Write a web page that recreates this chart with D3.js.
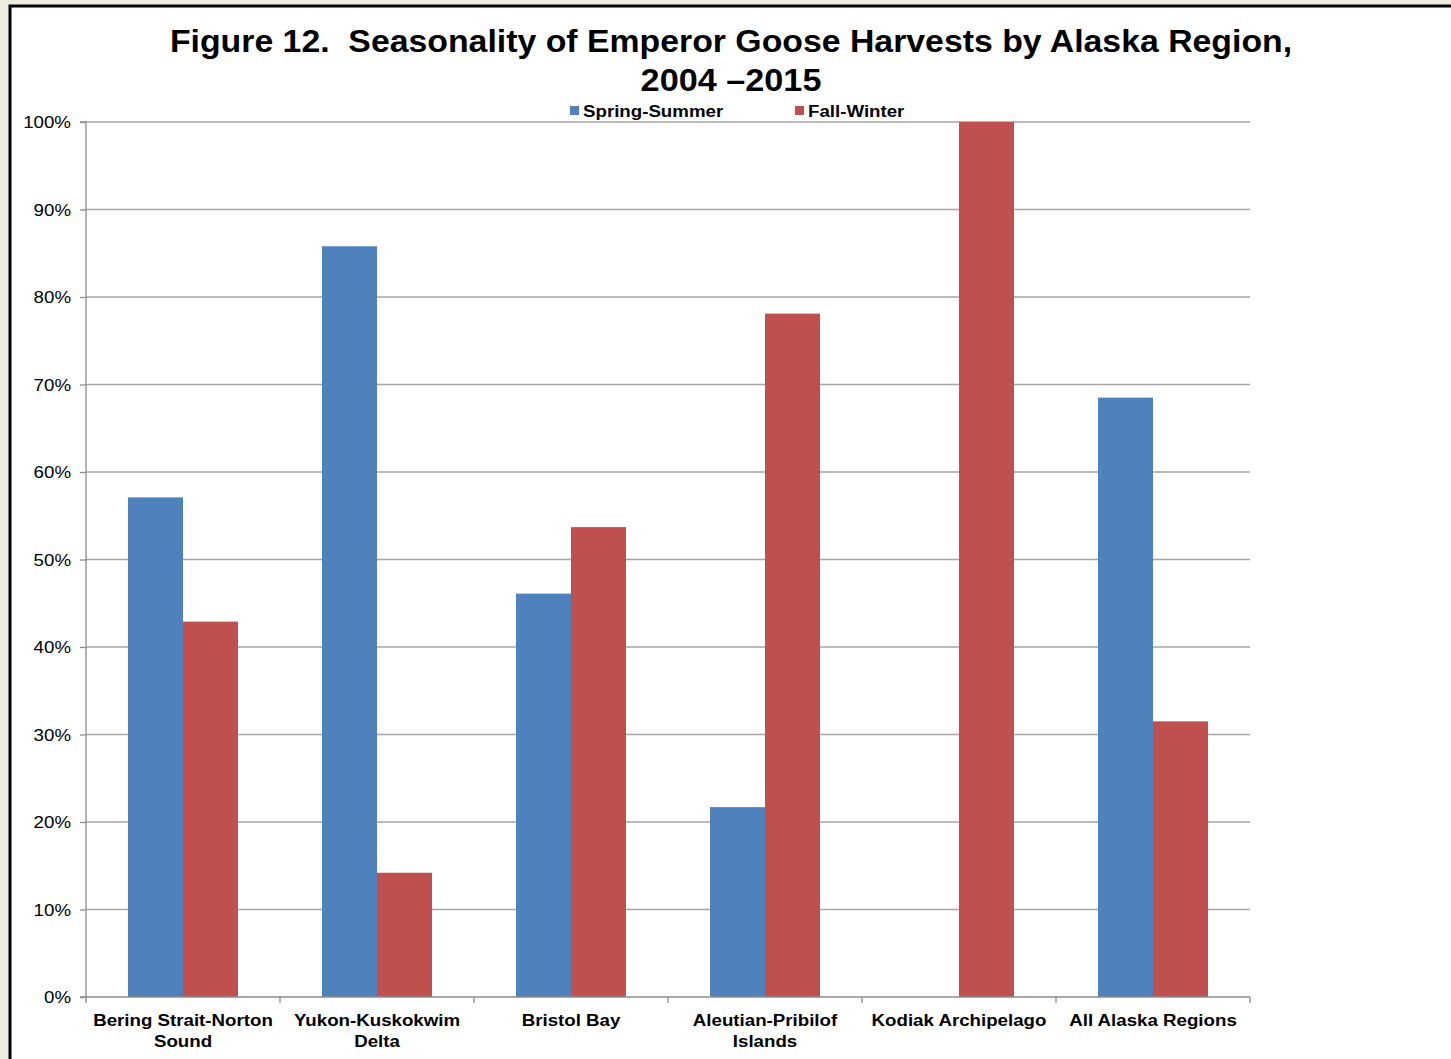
<!DOCTYPE html>
<html><head><meta charset="utf-8">
<script src="https://cdn.jsdelivr.net/npm/d3@7"></script>
<style>
html,body{margin:0;padding:0;background:#eeece1;}
svg{display:block;font-family:"Liberation Sans",Arial,sans-serif;}
</style></head>
<body><svg id="chart" width="1451" height="1059"></svg>
<script>
const categories = [["Bering Strait-Norton","Sound"],["Yukon-Kuskokwim","Delta"],["Bristol Bay"],["Aleutian-Pribilof","Islands"],["Kodiak Archipelago"],["All Alaska Regions"]];
const seriesNames = ["Spring-Summer","Fall-Winter"];
const springSummer = [0.571, 0.858, 0.461, 0.217, 0, 0.685];
const fallWinter = [0.429, 0.142, 0.537, 0.781, 1.0, 0.315];
const yTicks = [0,0.1,0.2,0.3,0.4,0.5,0.6,0.7,0.8,0.9,1.0];
const colors = ["#4f81bd","#c0504d"];

const svg = d3.select("#chart");
svg.append("rect").attr("x",10).attr("y",6).attr("width",1460).attr("height",1080)
  .attr("fill","#fff").attr("stroke","#000").attr("stroke-width",3);

const x0 = 86, x1 = 1250, yb = 997, yt = 122;
const x = d3.scaleBand().domain(d3.range(categories.length)).range([x0,x1]);
const y = d3.scaleLinear().domain([0,1]).range([yb,yt]);
const SX = 1.1;

function stext(parent, px, py, str, size, weight, anchor, sx){
  return parent.append("text").attr("transform",`translate(${px},${py}) scale(${sx||SX},1)`)
    .attr("text-anchor",anchor||"start").attr("font-size",size).attr("font-weight",weight||"normal")
    .attr("xml:space","preserve").text(str);
}

svg.append("g").selectAll("line").data(yTicks.slice(1)).join("line")
  .attr("x1",x0).attr("x2",x1).attr("y1",d=>y(d)).attr("y2",d=>y(d))
  .attr("stroke","#a6a6a6").attr("stroke-width",1.3);

const bw = 55;
const data = categories.map((c,i)=>[springSummer[i],fallWinter[i]]);
const g = svg.append("g");
data.forEach((vals,i)=>{
  const cx = x(i)+x.bandwidth()/2;
  vals.forEach((v,j)=>{
    if(v<=0) return;
    g.append("rect").attr("x",cx-bw+j*bw).attr("width",bw)
      .attr("y",y(v)).attr("height",yb-y(v)).attr("fill",colors[j]);
  });
});

const yAxis = d3.axisLeft(y).tickValues(yTicks).tickFormat(d3.format(".0%")).tickSize(6);
const ya = svg.append("g").attr("transform",`translate(${x0},0)`).call(yAxis);
ya.select(".domain").attr("stroke","#8c8c8c").attr("stroke-width",1.3).attr("d",`M-6,${yt}H0V${yb}H-6`);
ya.selectAll(".tick line").attr("stroke","#8c8c8c").attr("stroke-width",1.3);
ya.selectAll(".tick text").attr("font-size",17).attr("fill","#000")
  .attr("font-family","Liberation Sans, Arial, sans-serif")
  .attr("x",null).attr("dy","0.35em").attr("transform",`translate(-15,0) scale(${SX},1)`);

const xa = svg.append("g");
xa.append("line").attr("x1",x0).attr("x2",x1).attr("y1",yb).attr("y2",yb).attr("stroke","#8c8c8c").attr("stroke-width",1.3);
xa.selectAll("line.t").data(d3.range(categories.length+1)).join("line").attr("class","t")
  .attr("x1",i=>x0+i*x.step()).attr("x2",i=>x0+i*x.step()).attr("y1",yb).attr("y2",yb+6)
  .attr("stroke","#8c8c8c").attr("stroke-width",1.3);
categories.forEach((c,i)=>{
  c.forEach((line,k)=>stext(xa, x(i)+x.bandwidth()/2, 1026+k*21, line, 17, "bold", "middle"));
});

stext(svg, 731, 52, "Figure 12.  Seasonality of Emperor Goose Harvests by Alaska Region,", 32, "bold", "middle", 1.057);
stext(svg, 731, 91, "2004 \u20132015", 32, "bold", "middle", 1.07);

const legX = [570, 795];
seriesNames.forEach((n,i)=>{
  svg.append("rect").attr("x",legX[i]).attr("y",106).attr("width",9).attr("height",9).attr("fill",colors[i]);
  stext(svg, legX[i]+13, 117, n, 17, "bold", "start");
});
</script></body></html>
